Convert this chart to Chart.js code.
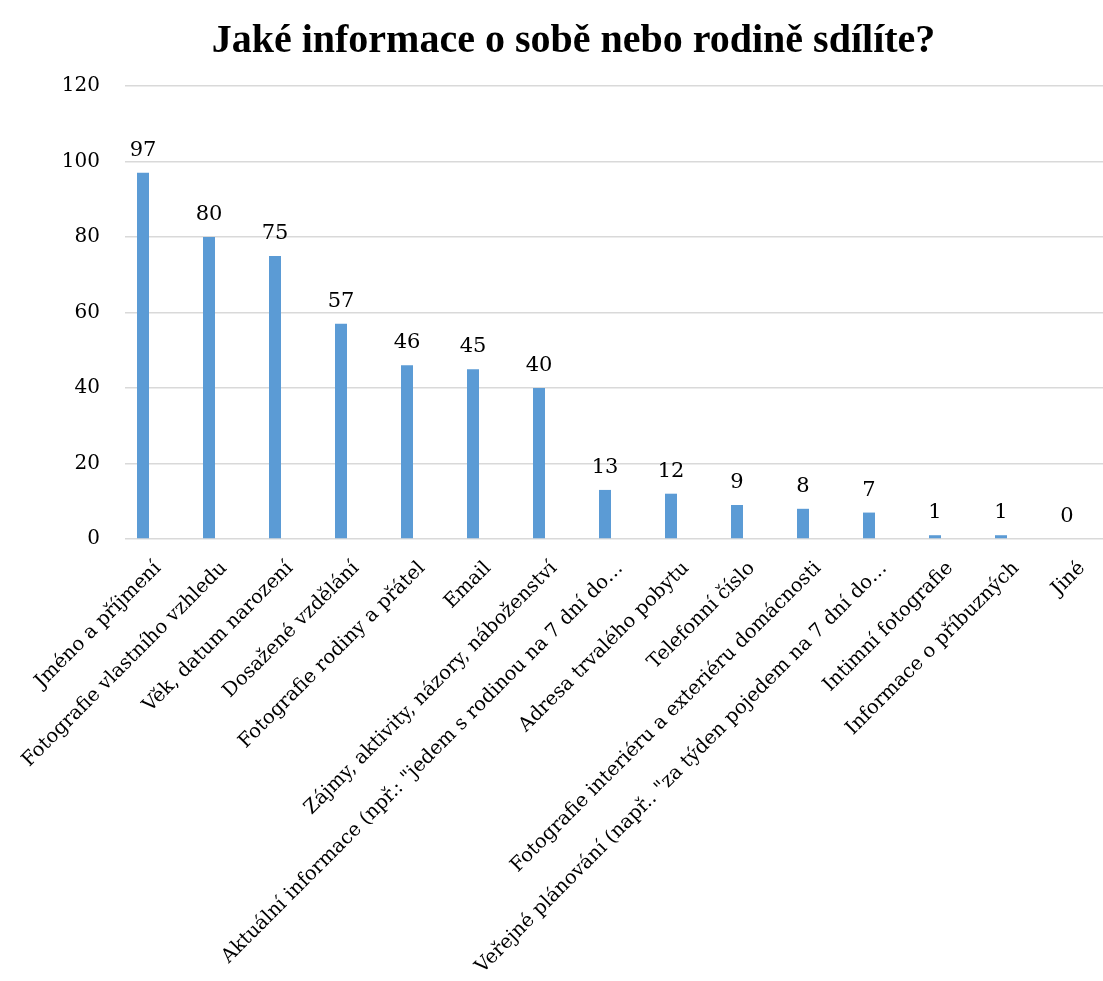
<!DOCTYPE html>
<html lang="cs">
<head>
<meta charset="utf-8">
<title>Jaké informace o sobě nebo rodině sdílíte?</title>
<script src="https://cdn.jsdelivr.net/npm/chart.js@4/dist/chart.umd.min.js"></script>
<style>
	html, body {
		margin: 0;
		padding: 0;
		background: #ffffff;
		overflow: hidden;
	}
	#wrap {
		position: relative;
		width: 1120px;
		height: 981px;
	}
</style>
</head>
<body>
<div id="wrap"><canvas id="chart"></canvas></div>
<script>
const categories = [
	"Jméno a příjmení",
	"Fotografie vlastního vzhledu",
	"Věk, datum narození",
	"Dosažené vzdělání",
	"Fotografie rodiny a přátel",
	"Email",
	"Zájmy, aktivity, názory, náboženství",
	"Aktuální informace (npř.: \"jedem s rodinou na 7 dní do…",
	"Adresa trvalého pobytu",
	"Telefonní číslo",
	"Fotografie interiéru a exteriéru domácnosti",
	"Veřejné plánování (např.. \"za týden pojedem na 7 dní do…",
	"Intimní fotografie",
	"Informace o příbuzných",
	"Jiné"
];
const counts = [97, 80, 75, 57, 46, 45, 40, 13, 12, 9, 8, 7, 1, 1, 0];
// second slot of each category group is left empty
const emptySeries = categories.map(() => null);

const yTicks = { min: 0, max: 120, step: 20 };

const serif = "'DejaVu Serif', serif";
const barColor = "#5b9bd5";
const gridColor = "#d9d9d9";

// writes the value above each bar of the first dataset
const valueLabels = {
	id: "valueLabels",
	afterDatasetsDraw(chart) {
		const ctx = chart.ctx;
		const meta = chart.getDatasetMeta(0);
		const values = chart.data.datasets[0].data;
		ctx.save();
		ctx.font = "21px " + serif;
		ctx.fillStyle = "#000000";
		ctx.textAlign = "center";
		ctx.textBaseline = "alphabetic";
		meta.data.forEach((bar, i) => {
			ctx.fillText(String(values[i]), bar.x, bar.y - 17);
		});
		ctx.restore();
	}
};

const context = document.getElementById("chart").getContext("2d");
const chart = new Chart(context, {
	type: "bar",
	data: {
		labels: categories,
		datasets: [
			{
				label: "Počet",
				data: counts,
				backgroundColor: barColor,
				categoryPercentage: 0.909,
				barPercentage: 0.4
			},
			{
				label: "",
				data: emptySeries,
				backgroundColor: barColor,
				categoryPercentage: 0.909,
				barPercentage: 0.4
			}
		]
	},
	options: {
		responsive: true,
		maintainAspectRatio: false,
		animation: false,
		layout: {
			padding: { left: 32, right: 5, top: 0, bottom: 0 }
		},
		plugins: {
			legend: { display: false },
			tooltip: { enabled: false },
			title: {
				display: true,
				text: "Jaké informace o sobě nebo rodině sdílíte?",
				color: "#000000",
				font: { family: "'Liberation Serif', serif", size: 40, weight: "bold" },
				padding: { top: 18, bottom: 20 }
			}
		},
		scales: {
			x: {
				grid: { display: false },
				border: { display: false },
				ticks: {
					color: "#000000",
					font: { family: serif, size: 19.5 },
					minRotation: 45,
					maxRotation: 45,
					autoSkip: false,
					padding: 10
				},
				afterFit(scale) {
					scale.height = 442;
				}
			},
			y: {
				min: yTicks.min,
				max: yTicks.max,
				grid: {
					color: gridColor,
					lineWidth: 1.5,
					drawTicks: false
				},
				border: { display: false },
				ticks: {
					stepSize: yTicks.step,
					color: "#000000",
					font: { family: serif, size: 20 },
					padding: 25
				},
				afterFit(scale) {
					scale.width = 93;
				}
			}
		}
	},
	plugins: [valueLabels]
});
</script>
</body>
</html>
